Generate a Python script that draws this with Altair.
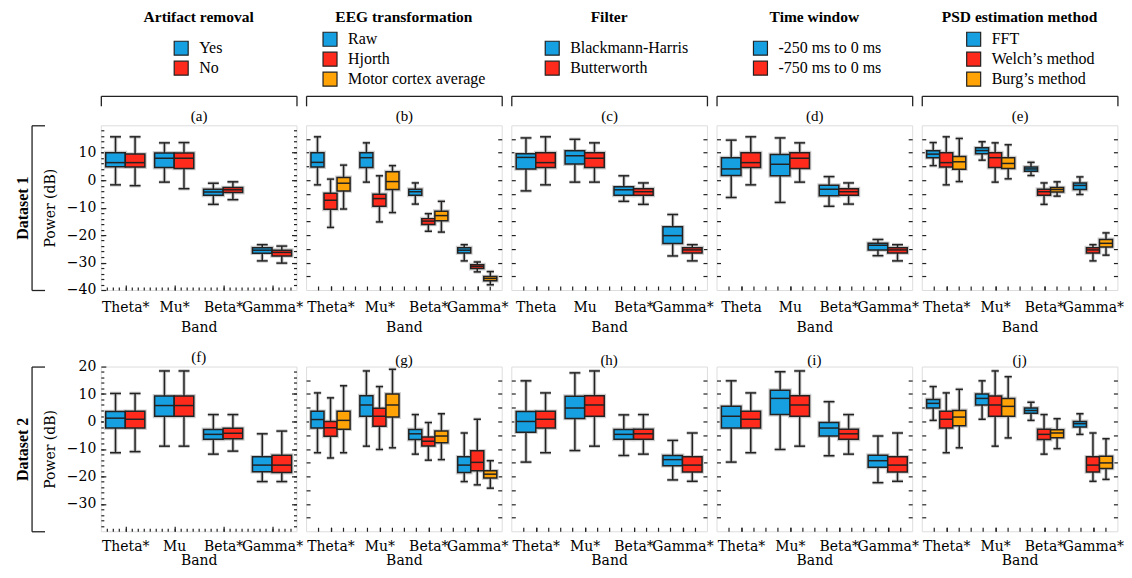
import altair as alt
import pandas as pd

BANDS = ["Theta", "Mu", "Beta", "Gamma"]
BLUE, RED, ORANGE = "#16a0e2", "#fe2b1c", "#ffa307"
INK = "#222222"
HALO = "#cdcdcd"
AXF = "DejaVu Serif"
TXF = "Liberation Serif"

# each list: one [min, q1, median, q3, max] per band (Theta, Mu, Beta, Gamma)
A_YES = [[-1.7, 4.9, 6.4, 10.0, 15.8], [-0.7, 4.6, 8.0, 9.9, 13.6], [-8.8, -5.5, -4.3, -3.3, -1.1], [-29.4, -26.6, -25.5, -24.6, -23.5]]
A_NO = [[-2.0, 4.8, 6.4, 9.5, 15.8], [-3.1, 4.3, 8.0, 9.9, 13.7], [-7.1, -4.5, -3.5, -2.7, -0.6], [-30.2, -27.6, -26.3, -25.5, -24.0]]
B_RAW = [[-1.7, 4.8, 6.5, 10.0, 15.8], [-0.7, 4.6, 8.2, 10.0, 13.6], [-8.7, -5.5, -4.2, -3.3, -1.0], [-29.4, -26.5, -25.5, -24.6, -23.5]]
B_HJ = [[-17.2, -10.6, -7.3, -4.8, 0.4], [-15.2, -9.5, -6.7, -5.1, 1.6], [-18.6, -16.1, -14.9, -14.0, -12.2], [-33.4, -32.2, -31.4, -30.8, -29.8]]
B_MCA = [[-10.5, -3.9, -1.1, 1.0, 5.5], [-11.8, -3.4, -0.5, 3.1, 5.3], [-18.9, -14.8, -12.9, -11.3, -7.7], [-38.1, -36.6, -35.8, -35.1, -33.3]]
C_BH = [[-3.9, 4.1, 8.3, 9.6, 15.4], [-0.7, 5.9, 8.9, 10.7, 14.9], [-7.7, -5.5, -3.5, -2.4, 1.6], [-27.6, -23.1, -20.2, -17.0, -12.5]]
C_BW = [[-1.7, 4.6, 6.4, 10.0, 15.8], [-0.7, 4.6, 8.0, 10.0, 13.6], [-8.8, -5.5, -4.2, -3.1, -1.0], [-29.4, -26.5, -25.4, -24.6, -23.5]]
D_250 = [[-6.3, 1.7, 4.1, 8.2, 14.6], [-8.1, 1.6, 5.8, 9.4, 15.4], [-9.5, -5.7, -3.3, -1.8, 1.3], [-27.5, -25.4, -23.7, -23.0, -21.6]]
D_750 = [[-1.7, 4.6, 6.4, 10.0, 15.8], [-0.7, 4.3, 8.0, 10.0, 13.6], [-8.7, -5.5, -4.2, -3.1, -1.0], [-29.4, -26.5, -25.4, -24.6, -23.5]]
E_FFT = [[5.3, 8.2, 9.5, 10.7, 13.7], [7.3, 9.6, 10.8, 11.8, 14.0], [1.7, 3.3, 4.1, 4.8, 6.5], [-5.2, -3.4, -1.9, -1.0, 1.2]]
E_WEL = [[-1.7, 4.8, 6.4, 10.0, 15.8], [-0.7, 4.6, 8.2, 10.0, 13.6], [-8.8, -5.5, -4.2, -3.3, -1.0], [-29.4, -26.5, -25.4, -24.6, -23.5]]
E_BUR = [[-0.5, 4.0, 6.7, 8.6, 15.2], [0.5, 4.3, 6.1, 8.2, 12.9], [-5.8, -4.3, -3.4, -2.7, -0.6], [-27.3, -24.3, -23.0, -21.6, -19.2]]
F_YES = [[-11.4, -2.4, 1.2, 3.6, 10.2], [-9.0, 1.9, 5.8, 9.3, 18.4], [-11.9, -6.5, -4.7, -2.9, 2.5], [-21.9, -18.3, -15.9, -12.9, -4.5]]
F_NO = [[-11.0, -2.4, 0.8, 3.7, 10.2], [-9.0, 1.9, 5.8, 9.3, 18.4], [-10.8, -6.3, -4.3, -2.5, 2.5], [-21.9, -18.6, -15.9, -12.3, -3.5]]
G_RAW = [[-11.4, -2.4, 0.7, 3.7, 10.4], [-9.0, 1.9, 6.0, 9.4, 18.4], [-11.9, -6.6, -4.5, -2.9, 2.5], [-21.9, -18.6, -15.9, -12.9, -4.2]]
G_HJ = [[-13.3, -5.4, -2.3, 0.0, 8.6], [-10.2, -1.7, 1.9, 4.8, 12.7], [-14.1, -8.9, -7.2, -5.7, -0.4], [-23.1, -18.0, -14.9, -10.7, 0.8]]
G_MCA = [[-11.4, -2.8, 0.4, 3.7, 13.0], [-9.6, 1.6, 6.0, 10.0, 19.0], [-13.9, -7.8, -5.3, -3.5, 2.8], [-24.3, -20.6, -19.2, -18.0, -14.3]]
H_BH = [[-14.8, -3.9, 0.0, 3.6, 14.8], [-10.6, 1.1, 4.9, 9.2, 17.7], [-12.4, -6.5, -4.7, -2.9, 2.4], [-21.3, -16.1, -13.9, -12.4, -6.9]]
H_BW = [[-11.4, -2.4, 0.8, 3.7, 10.4], [-9.0, 1.9, 6.0, 9.4, 18.4], [-11.9, -6.5, -4.5, -2.8, 2.5], [-21.8, -18.4, -15.9, -12.9, -4.2]]
I_250 = [[-14.8, -2.4, 1.9, 5.5, 14.8], [-10.2, 2.5, 8.4, 11.4, 18.1], [-12.5, -5.3, -2.4, -0.4, 7.2], [-22.3, -16.7, -14.3, -12.3, -5.3]]
I_750 = [[-11.4, -2.4, 0.8, 3.7, 10.4], [-9.0, 1.9, 6.0, 9.4, 18.4], [-11.9, -6.5, -4.5, -2.8, 2.5], [-21.8, -18.4, -15.9, -12.9, -4.2]]
J_FFT = [[0.4, 4.9, 6.6, 8.0, 12.7], [0.8, 6.0, 8.4, 10.0, 14.8], [0.4, 3.0, 4.0, 4.9, 7.0], [-4.7, -2.0, -0.8, 0.0, 2.8]]
J_WEL = [[-11.4, -2.4, 0.8, 3.7, 10.4], [-9.0, 1.9, 6.0, 9.3, 18.4], [-11.9, -6.6, -4.7, -2.8, 2.5], [-21.8, -18.4, -15.9, -12.9, -4.2]]
J_BUR = [[-9.6, -1.6, 1.6, 4.0, 11.7], [-6.0, 1.9, 5.5, 8.4, 16.3], [-9.9, -5.9, -4.2, -3.0, 1.0], [-21.1, -17.1, -15.1, -12.7, -6.3]]

# significance asterisk per band
SIG = {
    "a": [1, 1, 1, 1], "b": [1, 1, 1, 1], "c": [0, 0, 1, 1], "d": [0, 0, 1, 1], "e": [1, 1, 1, 1],
    "f": [1, 0, 1, 1], "g": [1, 1, 1, 1], "h": [1, 1, 1, 1], "i": [1, 1, 1, 1], "j": [1, 1, 1, 1],
}
COL_TITLES = ["Artifact removal", "EEG transformation", "Filter", "Time window", "PSD estimation method"]
GROUPS = [
    ["Yes", "No"],
    ["Raw", "Hjorth", "Motor cortex average"],
    ["Blackmann-Harris", "Butterworth"],
    ["-250 ms to 0 ms", "-750 ms to 0 ms"],
    ["FFT", "Welch\u2019s method", "Burg\u2019s method"],
]
STATS = {
    "a": [A_YES, A_NO], "b": [B_RAW, B_HJ, B_MCA], "c": [C_BH, C_BW], "d": [D_250, D_750], "e": [E_FFT, E_WEL, E_BUR],
    "f": [F_YES, F_NO], "g": [G_RAW, G_HJ, G_MCA], "h": [H_BH, H_BW], "i": [I_250, I_750], "j": [J_FFT, J_WEL, J_BUR],
}
LETTERS = [["a", "b", "c", "d", "e"], ["f", "g", "h", "i", "j"]]
COLORS = [BLUE, RED, ORANGE]

W, H = 196, 165
LEG_X = [72.5, 16, 33, 36, 44]
LEG_Y = [-85.2, -94.2, -85.2, -85.2, -94.2]
TITLE_OFF = [14.3, 5.3, 14.3, 14.3, 5.3]
SUB_OFF = [-5, -1, -1, -1, -1]


def ax(**kw):
    base = dict(grid=False, domain=False, labelFont=AXF, labelFontSize=14, labelColor="black",
                tickColor=INK, tickWidth=1.2, titleFont=AXF, titleFontSize=14, titleColor="black",
                titleFontWeight="normal", labelFlush=False, labelOverlap=False, title=None)
    base.update(kw)
    return alt.Axis(**base)


def panel(row, col):
    letter = LETTERS[row][col]
    groups = GROUPS[col]
    n = len(groups)
    w = 0.8 / n
    recs = []
    for gi, st in enumerate(STATS[letter]):
        for bi, (lo, q1, med, q3, hi) in enumerate(st):
            xc = bi + 0.5 + (gi - (n - 1) / 2) * w
            recs.append(dict(group=groups[gi], xc=xc, xl=xc - w / 2, xr=xc + w / 2,
                             cl=xc - 0.28 * w, cr=xc + 0.28 * w,
                             lo=lo, q1=q1, med=med, q3=q3, hi=hi))
    df = pd.DataFrame(recs)
    names = [b + ("*" if s else "") for b, s in zip(BANDS, SIG[letter])]
    lab_expr = "[" + ",".join("'%s'" % s for s in names) + "][round(datum.value - 0.5)]"

    xs = alt.Scale(domain=[0, 4], nice=False, zero=False)
    ys = alt.Scale(domain=[-40, 20], nice=False, zero=False)
    first = col == 0
    tmaj = 5 if first else 4

    x_lab = ax(orient="bottom", values=[0.5, 1.5, 2.5, 3.5], labelExpr=lab_expr, tickSize=tmaj,
               offset=-tmaj, labelPadding=10.5 if row == 0 else 8, title="Band",
               titlePadding=6.5 if row == 0 else 0.5)
    if first:
        x_min = ax(orient="bottom", values=[i / 8 for i in range(1, 32)], tickSize=3, offset=-3, labels=False)
    else:
        x_min = ax(orient="bottom", values=[i / 4 for i in range(1, 16)], tickSize=4, offset=-4, labels=False)
    if row == 0:
        x_br = ax(orient="bottom", values=[0, 4], tickSize=10, offset=-(H + 29.5), labels=False,
                  domain=True, domainColor=INK, domainWidth=1.3, tickWidth=1.3, labelPadding=0,
                  title="(%s)" % letter, titleFont=TXF, titleFontSize=15, titlePadding=2)
    else:
        x_br = None

    y10 = list(range(-40, 11, 10)) if row == 0 else list(range(-30, 21, 10))
    y5 = list(range(-35, 20, 5))
    y2 = list(range(-38, 20, 2))
    if first:
        y_left = ax(orient="left", values=y10, tickSize=5, offset=-5, labelPadding=5, format="d",
                    title="Power (dB)", titlePadding=9)
        y_lmin = ax(orient="left", values=y2, tickSize=3, offset=-3, labels=False)
        y_right = ax(orient="right", values=list(range(-30, 20, 10)), tickSize=5, offset=-5, labels=False)
        y_rmin = ax(orient="right", values=y2, tickSize=3, offset=-3, labels=False)
        y_ds = ax(orient="right", values=[-40, 20], tickSize=13, offset=-(W + 69.4), labels=False,
                  domain=True, domainColor=INK, domainWidth=1.3, tickWidth=1.3,
                  title="Dataset %d" % (row + 1), titleFont=TXF, titleFontSize=16, titleFontWeight="bold",
                  titleAngle=270, titleX=-9, titleY=H / 2, titleAlign="center", titleBaseline="middle")
    else:
        y_left = ax(orient="left", values=y5, tickSize=4, offset=-4, labels=False)
        y_lmin = None
        y_right = ax(orient="right", values=y5, tickSize=4, offset=-4, labels=False)
        y_rmin = None
        y_ds = None

    if row == 0:
        legend = alt.Legend(orient="none", legendX=LEG_X[col], legendY=LEG_Y[col], title=None,
                            symbolType="square", symbolSize=196, symbolStrokeColor=INK,
                            symbolStrokeWidth=1.2, symbolOpacity=1, labelFont=TXF, labelFontSize=16,
                            labelColor="black", labelOffset=10, rowPadding=0, padding=0)
        title = alt.TitleParams(text=COL_TITLES[col], font=TXF, fontSize=15.5, fontWeight="bold",
                                anchor="middle", frame="group", offset=TITLE_OFF[col], color="black")
    else:
        legend = None
        title = alt.TitleParams(text="(%s)" % letter, font=TXF, fontSize=15, fontWeight="normal",
                                anchor="middle", frame="group", offset=SUB_OFF[col], color="black")

    base = alt.Chart(df)
    xn = lambda f: alt.X(f, scale=xs, axis=None)
    yn = lambda f: alt.Y(f, scale=ys, axis=None)
    # soft grey halo under the drawn elements
    h_whisk = base.mark_rule(color=HALO, strokeWidth=3.6).encode(x=xn("xc:Q"), y=yn("lo:Q"), y2="hi:Q")
    h_lo = base.mark_rule(color=HALO, strokeWidth=3.6).encode(x=xn("cl:Q"), x2="cr:Q", y=yn("lo:Q"))
    h_hi = base.mark_rule(color=HALO, strokeWidth=3.6).encode(x=xn("cl:Q"), x2="cr:Q", y=yn("hi:Q"))
    h_box = base.mark_rect(fill=HALO, stroke=HALO, strokeWidth=3.8).encode(
        x=xn("xl:Q"), x2="xr:Q", y=yn("q1:Q"), y2="q3:Q")

    whisk = base.mark_rule(color=INK, strokeWidth=1.5).encode(
        x=alt.X("xc:Q", scale=xs, axis=x_lab), y=alt.Y("lo:Q", scale=ys, axis=y_left), y2="hi:Q")
    cap_lo = base.mark_rule(color=INK, strokeWidth=1.5).encode(
        x=alt.X("cl:Q", scale=xs, axis=x_min), x2="cr:Q", y=alt.Y("lo:Q", scale=ys, axis=y_lmin))
    cap_hi = base.mark_rule(color=INK, strokeWidth=1.5).encode(
        x=alt.X("cl:Q", scale=xs, axis=x_br), x2="cr:Q", y=alt.Y("hi:Q", scale=ys, axis=y_right))
    color = alt.Color("group:N", scale=alt.Scale(domain=groups, range=COLORS[:n]), legend=legend)
    box = base.mark_rect(stroke=INK, strokeWidth=1.5).encode(
        x=alt.X("xl:Q", scale=xs, axis=None), x2="xr:Q",
        y=alt.Y("q1:Q", scale=ys, axis=y_rmin), y2="q3:Q", color=color)
    med = base.mark_rule(color=INK, strokeWidth=1.5).encode(
        x=alt.X("xl:Q", scale=xs, axis=None), x2="xr:Q", y=alt.Y("med:Q", scale=ys, axis=y_ds))
    return (alt.layer(h_whisk, h_lo, h_hi, h_box, whisk, cap_lo, cap_hi, box, med)
            .resolve_axis(x="independent", y="independent")
            .properties(width=W, height=H, title=title))


panels = [panel(r, c) for r in range(2) for c in range(5)]
chart = (alt.concat(*panels, columns=5, spacing={"row": 76.7, "column": 9.6}, bounds="flush")
         .resolve_scale(color="independent")
         .resolve_legend(color="independent")
         .properties(padding={"left": 6, "top": 1, "right": -1, "bottom": 0})
         .configure_view(stroke=INK, strokeWidth=1.2)
         .configure(background="white"))
chart.save("out.html", embed_options={"renderer": "svg", "actions": False})
